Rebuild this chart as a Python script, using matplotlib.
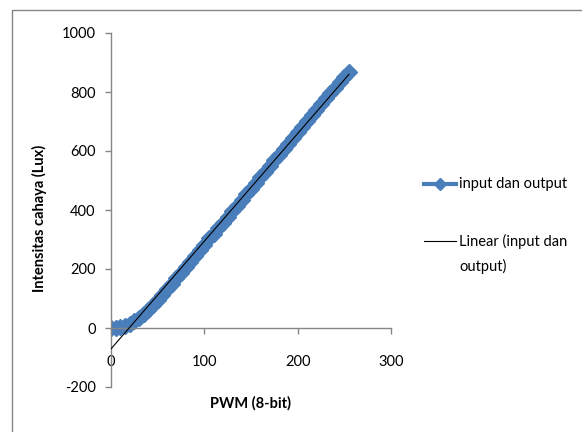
import matplotlib
matplotlib.use('Agg')
import matplotlib.pyplot as plt
from matplotlib.lines import Line2D
from matplotlib.patches import Rectangle
import numpy as np

plt.rcParams['font.family'] = ['Lato', 'DejaVu Sans']
plt.rcParams['axes.unicode_minus'] = False

# ---- data ----
pwm = [0, 5, 10, 15, 20, 25, 30, 35, 40, 45, 50, 55, 60, 65, 70, 75, 80, 85, 90, 95,
       100, 105, 110, 115, 120, 125, 130, 135, 140, 145, 150, 155, 160, 165, 170, 175,
       180, 185, 190, 195, 200, 205, 210, 215, 220, 225, 230, 235, 240, 245, 250, 255]
lux = [0, 0, 3, 7, 13, 23, 34, 47, 61, 77, 94, 112, 131, 150, 168, 188, 206, 225, 244, 263,
       282, 304, 317, 338, 357, 377, 396, 415, 434, 454, 472, 491, 511, 530, 549, 569,
       588, 607, 625, 645, 664, 683, 703, 722, 740, 760, 779, 797, 815, 833, 850, 867]

series_label = 'input dan output'
trend_label = 'Linear (input dan output)'
x_title = 'PWM (8-bit)'
y_title = 'Intensitas cahaya (Lux)'
x_ticks = [0, 100, 200, 300]
y_ticks = [-200, 0, 200, 400, 600, 800, 1000]

blue = '#4A7EBB'
axis_gray = '#868686'

W, H = 582, 432
fig = plt.figure(figsize=(W / 100, H / 100), dpi=100)
ax = fig.add_axes([111 / W, 1 - 387 / H, 280 / W, 354 / H])

ax.plot(pwm, lux, color=blue, lw=3.2, marker='D', markersize=8,
        markerfacecolor=blue, markeredgecolor=blue, zorder=2, label=series_label)

slope, intercept = np.polyfit(pwm, lux, 1)
xt = np.array([min(pwm), max(pwm)])
ax.plot(xt, slope * xt + intercept, color='black', lw=0.8, zorder=3, label=trend_label)

ax.set_xlim(0, 300)
ax.set_ylim(-200, 1000)
ax.set_xticks(x_ticks)
ax.set_yticks(y_ticks)

for s in ['top', 'right']:
    ax.spines[s].set_visible(False)
ax.spines['bottom'].set_position(('data', 0))
for s in ['left', 'bottom']:
    ax.spines[s].set_color(axis_gray)
    ax.spines[s].set_linewidth(1.0)

ax.tick_params(axis='both', colors=axis_gray, labelcolor='black', labelsize=10.5,
               direction='out', length=4, width=1.0)
ax.tick_params(axis='y', pad=7)
ax.tick_params(axis='x', pad=15.5)

ax.set_xlabel(x_title, fontsize=10.5, fontweight='bold')
ax.set_ylabel(y_title, fontsize=10.5, fontweight='bold')
ax.xaxis.set_label_coords((250 - 111) / 280, (387 - 396) / 354)
ax.yaxis.set_label_coords((47 - 111) / 280, (387 - 218) / 354)

# legend (drawn manually to match Excel layout)
def fx(px):
    return px / W

def fy(py):
    return 1 - py / H

fig.add_artist(Line2D([fx(424), fx(456)], [fy(184), fy(184)], color=blue, lw=3.0,
                      transform=fig.transFigure))
fig.add_artist(Line2D([fx(440)], [fy(184)], color=blue, marker='D', markersize=6,
                      transform=fig.transFigure))
fig.text(fx(459), fy(184), series_label, fontsize=10.5, va='center', ha='left')
fig.add_artist(Line2D([fx(424), fx(456)], [fy(241), fy(241)], color='black', lw=0.8,
                      transform=fig.transFigure))
fig.text(fx(459), fy(241), 'Linear (input dan', fontsize=10.5, va='center', ha='left')
fig.text(fx(459), fy(266), 'output)', fontsize=10.5, va='center', ha='left')

# chart-area border (partly cropped in reference)
fig.add_artist(Rectangle((fx(12), fy(H + 20)), fx(W + 20) - fx(12), fy(10) - fy(H + 20),
                         transform=fig.transFigure, fill=False, edgecolor=axis_gray,
                         lw=1.0, clip_on=False))

fig.savefig('out.png', dpi=100)
